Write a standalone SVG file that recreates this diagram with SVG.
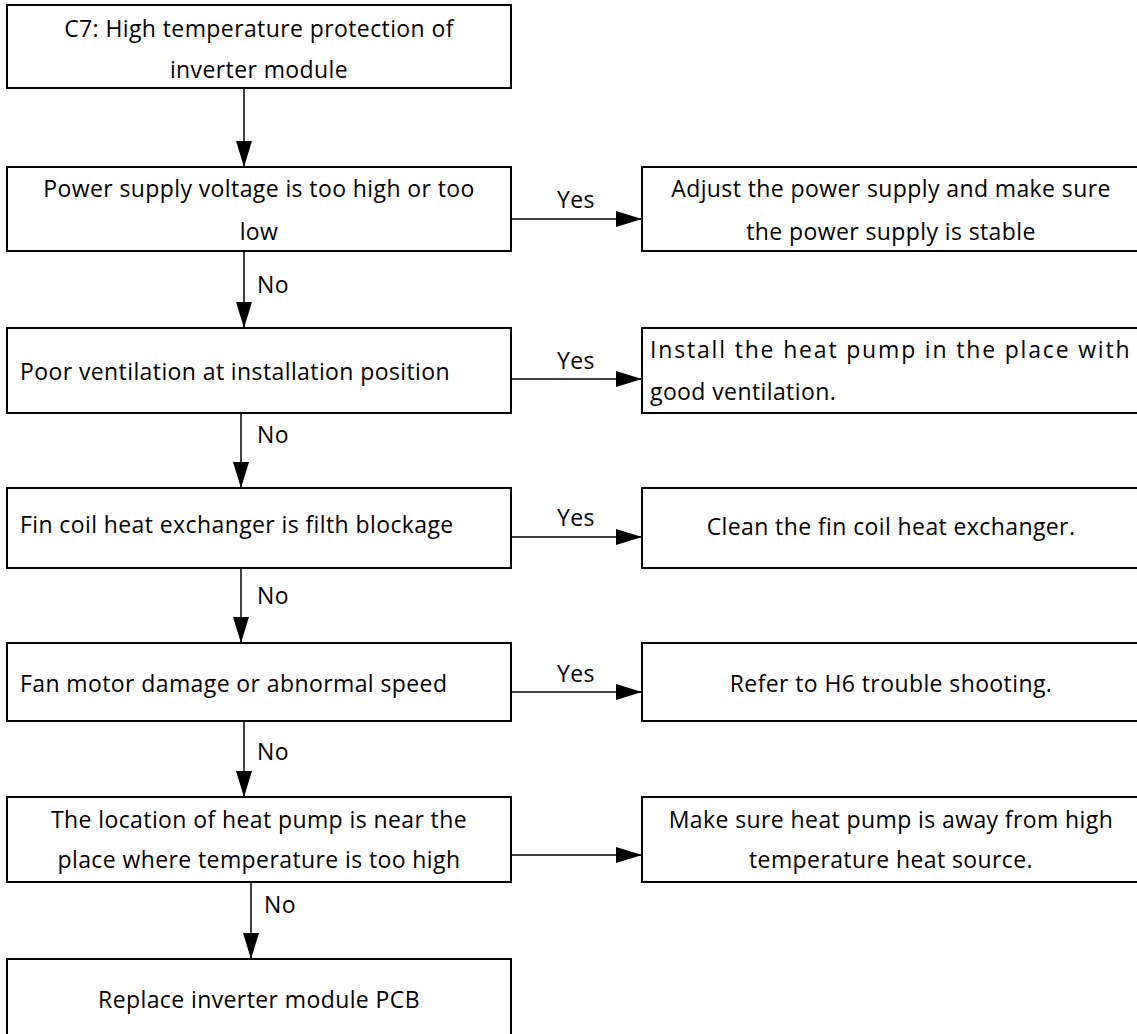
<svg xmlns="http://www.w3.org/2000/svg" width="1137" height="1034" viewBox="0 0 1137 1034">
<style>
.box{fill:#fff;stroke:#000;stroke-width:2}
.t{font-family:"Open Sans","Noto Sans","Liberation Sans",sans-serif;font-size:23px;letter-spacing:0.4px;fill:#000}
.c{text-anchor:middle}
.ln{stroke:#000;stroke-width:1.5;fill:none}
</style>
<defs>
<marker id="ah" markerUnits="userSpaceOnUse" markerWidth="26" markerHeight="16" refX="26" refY="8" orient="auto">
<path d="M0,0 L26,8 L0,16 Z" fill="#000"/>
</marker>
</defs>
<rect width="1137" height="1034" fill="#fff"/>
<g id="connectors">
<line class="ln" x1="244" y1="88" x2="244" y2="167" marker-end="url(#ah)"/>
<line class="ln" x1="511" y1="219" x2="642" y2="219" marker-end="url(#ah)"/>
<text class="t c" x="576" y="208">Yes</text>
<line class="ln" x1="244" y1="251" x2="244" y2="328" marker-end="url(#ah)"/>
<text class="t" x="257" y="293">No</text>
<line class="ln" x1="511" y1="379" x2="642" y2="379" marker-end="url(#ah)"/>
<text class="t c" x="576" y="369">Yes</text>
<line class="ln" x1="241" y1="413" x2="241" y2="488" marker-end="url(#ah)"/>
<text class="t" x="257" y="443">No</text>
<line class="ln" x1="511" y1="537" x2="642" y2="537" marker-end="url(#ah)"/>
<text class="t c" x="576" y="526">Yes</text>
<line class="ln" x1="241" y1="568" x2="241" y2="643" marker-end="url(#ah)"/>
<text class="t" x="257" y="604">No</text>
<line class="ln" x1="511" y1="692" x2="642" y2="692" marker-end="url(#ah)"/>
<text class="t c" x="576" y="682">Yes</text>
<line class="ln" x1="244" y1="721" x2="244" y2="797" marker-end="url(#ah)"/>
<text class="t" x="257" y="760">No</text>
<line class="ln" x1="511" y1="855" x2="642" y2="855" marker-end="url(#ah)"/>
<line class="ln" x1="251" y1="882" x2="251" y2="959" marker-end="url(#ah)"/>
<text class="t" x="264" y="913">No</text>
</g>
<g id="n1">
<rect class="box" x="7" y="5" width="504" height="83"/>
<text class="t c" x="259" y="37">C7: High temperature protection of</text>
<text class="t c" x="259" y="78">inverter module</text>
</g>
<g id="n2">
<rect class="box" x="7" y="167" width="504" height="84"/>
<text class="t c" x="259" y="197">Power supply voltage is too high or too</text>
<text class="t c" x="259" y="240">low</text>
</g>
<g id="n2y">
<rect class="box" x="642" y="167" width="500" height="84"/>
<text class="t c" x="891" y="197">Adjust the power supply and make sure</text>
<text class="t c" x="891" y="240">the power supply is stable</text>
</g>
<g id="n3">
<rect class="box" x="7" y="328" width="504" height="85"/>
<text class="t" x="20" y="380">Poor ventilation at installation position</text>
</g>
<g id="n3y">
<rect class="box" x="642" y="328" width="500" height="85"/>
<text class="t" x="650" y="358" textLength="480" lengthAdjust="spacing">Install the heat pump in the place with</text>
<text class="t" x="650" y="400">good ventilation.</text>
</g>
<g id="n4">
<rect class="box" x="7" y="488" width="504" height="80"/>
<text class="t" x="20" y="533">Fin coil heat exchanger is filth blockage</text>
</g>
<g id="n4y">
<rect class="box" x="642" y="488" width="500" height="80"/>
<text class="t c" x="891" y="535">Clean the fin coil heat exchanger.</text>
</g>
<g id="n5">
<rect class="box" x="7" y="643" width="504" height="78"/>
<text class="t" x="20" y="692">Fan motor damage or abnormal speed</text>
</g>
<g id="n5y">
<rect class="box" x="642" y="643" width="500" height="78"/>
<text class="t c" x="891" y="692">Refer to H6 trouble shooting.</text>
</g>
<g id="n6">
<rect class="box" x="7" y="797" width="504" height="85"/>
<text class="t c" x="259" y="828">The location of heat pump is near the</text>
<text class="t c" x="259" y="868">place where temperature is too high</text>
</g>
<g id="n6y">
<rect class="box" x="642" y="797" width="500" height="85"/>
<text class="t c" x="891" y="828">Make sure heat pump is away from high</text>
<text class="t c" x="891" y="868">temperature heat source.</text>
</g>
<g id="n7">
<rect class="box" x="7" y="959" width="504" height="90"/>
<text class="t c" x="259" y="1008">Replace inverter module PCB</text>
</g>
</svg>
